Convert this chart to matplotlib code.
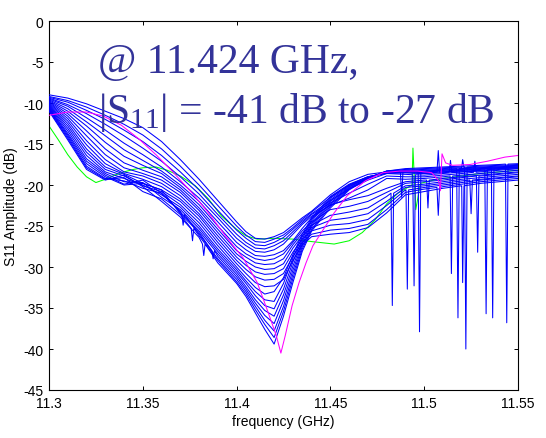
import numpy as np
import matplotlib
matplotlib.use("Agg")
import matplotlib.pyplot as plt

plt.rcParams['font.family'] = ['Liberation Sans', 'DejaVu Sans']
plt.rcParams['axes.unicode_minus'] = False
plt.rcParams['mathtext.fontset'] = 'custom'
plt.rcParams['mathtext.rm'] = 'Liberation Serif'
plt.rcParams['mathtext.it'] = 'Liberation Serif:italic'

# ---------------- data ----------------
freq_grid = [11.300, 11.310, 11.320, 11.330, 11.340, 11.350, 11.360, 11.370, 11.380, 11.390,
             11.400, 11.405, 11.410, 11.415, 11.420, 11.425, 11.430, 11.435, 11.440, 11.450,
             11.460, 11.470, 11.480, 11.490, 11.500, 11.510, 11.520, 11.530, 11.540, 11.550]

blue_db = [
    [-9.0, -9.4, -10.1, -11.0, -11.9, -13.0, -14.7, -16.9, -19.3, -21.9, -24.5, -25.7, -26.5, -26.6, -26.3,
     -25.8, -24.9, -24.0, -23.2, -21.2, -19.6, -18.7, -18.4, -18.3, -18.3, -18.2, -18.0, -17.9, -17.8, -17.6],
    [-9.2, -9.7, -10.5, -11.5, -12.6, -13.9, -15.6, -17.7, -20.0, -22.5, -25.0, -26.1, -26.9, -27.0, -26.6,
     -26.1, -25.2, -24.2, -23.3, -21.5, -20.0, -19.0, -18.5, -18.5, -18.6, -18.4, -18.2, -18.0, -17.9, -17.8],
    [-9.3, -9.9, -10.9, -12.0, -13.3, -14.7, -16.4, -18.4, -20.6, -23.1, -25.5, -26.5, -27.3, -27.4, -27.0,
     -26.4, -25.4, -24.4, -23.5, -21.9, -20.5, -19.4, -18.6, -18.7, -18.8, -18.6, -18.4, -18.2, -18.0, -17.9],
    [-9.4, -10.2, -11.3, -12.6, -14.0, -15.5, -17.1, -19.0, -21.1, -23.6, -26.0, -27.0, -27.7, -27.8, -27.4,
     -26.8, -25.7, -24.6, -23.6, -22.2, -21.0, -19.9, -18.9, -19.0, -19.0, -18.8, -18.6, -18.4, -18.2, -18.0],
    [-9.5, -10.4, -11.8, -13.3, -14.9, -16.3, -17.8, -19.6, -21.6, -24.0, -26.5, -27.4, -28.1, -28.2, -27.9,
     -27.2, -26.0, -24.8, -23.8, -22.5, -21.6, -20.6, -19.2, -19.3, -19.2, -19.0, -18.8, -18.6, -18.4, -18.2],
    [-9.6, -10.7, -12.3, -14.0, -15.7, -17.0, -18.3, -20.0, -22.0, -24.5, -27.0, -27.9, -28.6, -28.7, -28.5,
     -28.0, -26.8, -25.3, -24.0, -22.4, -21.8, -21.3, -20.4, -19.6, -19.4, -19.2, -19.0, -18.8, -18.6, -18.4],
    [-9.7, -11.0, -12.8, -14.8, -16.5, -17.6, -18.6, -20.3, -22.4, -25.0, -27.5, -28.4, -29.0, -29.2, -29.0,
     -28.4, -27.0, -25.6, -24.5, -23.0, -22.6, -22.0, -20.9, -19.8, -19.6, -19.4, -19.1, -18.9, -18.7, -18.5],
    [-9.8, -11.3, -13.4, -15.6, -17.3, -18.2, -19.0, -20.6, -22.8, -25.4, -28.0, -28.8, -29.5, -29.7, -29.6,
     -29.0, -27.3, -25.9, -24.9, -23.7, -23.3, -22.8, -21.4, -20.1, -19.9, -19.6, -19.3, -19.1, -18.9, -18.7],
    [-9.9, -11.6, -14.0, -16.3, -17.9, -18.6, -19.4, -20.9, -23.1, -25.8, -28.4, -29.3, -30.0, -30.3, -30.2,
     -29.6, -27.7, -26.2, -25.2, -24.3, -24.0, -23.5, -22.0, -20.3, -20.1, -19.8, -19.5, -19.3, -19.1, -18.9],
    [-10.0, -11.9, -14.6, -16.9, -18.4, -18.9, -19.8, -21.3, -23.5, -26.2, -28.8, -29.8, -30.6, -30.9, -30.8,
     -30.2, -28.2, -26.6, -25.6, -24.9, -24.7, -24.2, -22.5, -20.6, -20.3, -20.0, -19.7, -19.4, -19.2, -19.0],
    [-10.1, -12.2, -15.1, -17.4, -18.6, -19.3, -20.2, -21.7, -23.8, -26.6, -29.2, -30.3, -31.2, -31.6, -31.5,
     -30.8, -28.7, -27.0, -26.0, -25.5, -25.3, -24.8, -23.0, -20.9, -20.5, -20.2, -19.9, -19.6, -19.4, -19.2],
    [-10.2, -12.5, -15.6, -17.8, -18.7, -19.8, -20.6, -22.0, -24.2, -27.0, -29.6, -30.8, -31.9, -32.4, -32.3,
     -31.5, -29.2, -27.3, -26.3, -26.0, -25.8, -25.2, -23.4, -21.2, -20.8, -20.4, -20.1, -19.8, -19.6, -19.4],
    [-10.3, -12.8, -16.0, -18.1, -18.9, -20.1, -20.8, -22.4, -24.6, -27.4, -30.0, -31.3, -32.5, -33.3, -33.0,
     -31.3, -28.5, -26.0, -24.0, -21.4, -19.9, -19.0, -18.6, -18.5, -18.6, -18.5, -18.4, -18.3, -18.1, -18.0],
    [-10.4, -13.1, -16.4, -18.4, -19.2, -20.0, -21.2, -22.7, -25.0, -27.8, -30.3, -31.7, -33.0, -34.0, -34.2,
     -32.0, -28.9, -26.3, -24.2, -21.6, -20.0, -19.0, -18.5, -18.4, -18.5, -18.4, -18.3, -18.2, -18.0, -17.9],
    [-10.5, -13.4, -16.8, -18.6, -19.6, -19.7, -21.5, -23.0, -25.3, -28.1, -30.6, -32.0, -33.5, -34.7, -35.1,
     -32.7, -29.4, -26.6, -24.4, -21.8, -20.1, -19.1, -18.5, -18.3, -18.4, -18.3, -18.2, -18.1, -17.9, -17.8],
    [-10.6, -13.7, -17.1, -18.8, -19.9, -19.4, -21.0, -23.3, -25.6, -28.4, -30.9, -32.4, -34.0, -35.3, -36.0,
     -33.4, -29.9, -26.9, -24.7, -22.0, -20.2, -19.1, -18.4, -18.3, -18.3, -18.2, -18.1, -18.0, -17.9, -17.8],
    [-10.7, -13.9, -17.4, -19.0, -20.0, -19.8, -20.6, -23.5, -25.8, -28.7, -31.2, -32.7, -34.4, -35.9, -36.9,
     -34.1, -30.4, -27.2, -24.9, -22.2, -20.3, -19.1, -18.4, -18.2, -18.2, -18.1, -18.0, -17.9, -17.8, -17.7],
    [-10.8, -14.1, -17.7, -19.2, -19.5, -20.4, -21.0, -23.2, -26.0, -29.0, -31.5, -33.0, -34.8, -36.5, -37.8,
     -34.8, -30.9, -27.5, -25.1, -22.4, -20.4, -19.2, -18.3, -18.2, -18.1, -18.0, -17.9, -17.8, -17.7, -17.6],
    [-10.9, -14.3, -17.9, -19.3, -19.1, -20.8, -21.7, -23.6, -26.2, -29.2, -31.8, -33.3, -35.2, -37.0, -38.6,
     -35.4, -31.4, -27.8, -25.4, -22.6, -20.5, -19.2, -18.3, -18.1, -18.0, -17.9, -17.8, -17.7, -17.6, -17.5],
    [-11.0, -14.5, -18.1, -19.4, -18.8, -20.2, -22.0, -23.9, -26.4, -29.5, -32.0, -33.6, -35.6, -37.6, -39.4,
     -36.0, -31.9, -28.1, -25.6, -22.8, -20.6, -19.2, -18.3, -18.0, -17.9, -17.8, -17.7, -17.6, -17.5, -17.4],
]

# narrow spikes / notches on individual blue traces
spike_curve = [8, 10, 3, 15, 11, 2, 5, 13, 17, 12, 19, 18, 7, 4, 14, 16, 20, 6, 9, 1, 19, 20, 18, 17]
spike_freq = [11.4830, 11.4910, 11.4946, 11.4975, 11.5075, 11.5075, 11.5145, 11.5140, 11.5180, 11.5205,
              11.5222, 11.5205, 11.5285, 11.5270, 11.5330, 11.5365, 11.5440, 11.5020, 11.5250, 11.4880,
              11.3765, 11.3825, 11.3715, 11.3875]
spike_base = [-21.0, -20.6, -18.75, -18.4, -20.3, -18.45, -18.9, -18.45, -18.0, -20.1,
              -17.8, -17.9, -18.9, -18.45, -18.15, -17.95, -17.45, -19.4, -19.4, -18.3,
              -25.3, -27.2, -23.6, -28.0]
spike_depth = [-34.7, -32.7, -32.3, -37.9, -23.7, -15.8, -30.8, -17.0, -36.2, -31.9,
               -40.0, -16.9, -28.2, -17.1, -35.7, -36.2, -36.8, -22.8, -23.5, -21.5,
               -26.8, -28.6, -24.9, -29.0]

green_freq = [11.300, 11.305, 11.310, 11.315, 11.320, 11.325, 11.330, 11.335, 11.340, 11.345,
              11.350, 11.357, 11.363, 11.370, 11.378, 11.385, 11.392, 11.400, 11.405, 11.411,
              11.420, 11.430, 11.440, 11.452, 11.460, 11.467, 11.474, 11.480, 11.486, 11.4935,
              11.494, 11.4955, 11.498, 11.505, 11.510, 11.520, 11.530, 11.540, 11.550]
green_db = [-12.8, -14.5, -16.3, -17.8, -19.0, -19.7, -19.3, -18.8, -18.4, -18.1,
            -17.9, -17.8, -18.2, -18.9, -20.1, -21.7, -23.8, -25.4, -26.2, -26.6,
            -26.5, -26.6, -26.9, -27.2, -26.8, -25.8, -24.2, -22.3, -21.0, -20.0,
            -15.5, -23.0, -19.8, -19.4, -19.2, -18.9, -18.6, -18.4, -18.2]

magenta_freq = [11.300, 11.310, 11.320, 11.329, 11.3385, 11.348, 11.357, 11.366, 11.376, 11.385,
                11.394, 11.4035, 11.411, 11.4166, 11.4212, 11.4236, 11.4259, 11.4296, 11.4333, 11.437,
                11.4407, 11.4463, 11.452, 11.459, 11.4686, 11.478, 11.487, 11.4965, 11.504, 11.5077,
                11.5086, 11.5095, 11.5114, 11.515, 11.5244, 11.5337, 11.543, 11.550]
magenta_db = [-11.5, -11.1, -11.1, -11.6, -12.7, -14.4, -16.3, -18.4, -20.9, -23.4,
              -26.2, -28.9, -31.9, -35.4, -38.4, -40.5, -38.4, -34.7, -31.9, -29.5,
              -27.4, -25.4, -23.4, -21.3, -19.5, -18.5, -18.3, -18.3, -18.5, -19.5,
              -20.7, -16.2, -17.3, -17.6, -17.5, -17.1, -16.6, -16.4]

x_ticks = [11.3, 11.35, 11.4, 11.45, 11.5, 11.55]
x_tick_labels = ['11.3', '11.35', '11.4', '11.45', '11.5', '11.55']
y_ticks = [0, -5, -10, -15, -20, -25, -30, -35, -40, -45]
y_tick_labels = ['0', '-5', '-10', '-15', '-20', '-25', '-30', '-35', '-40', '-45']

# ---------------- figure ----------------
fig = plt.figure(figsize=(5.46, 4.39), dpi=100)
ax = fig.add_axes([49 / 546, 1 - 391 / 439, 469 / 546, 369 / 439])

ax.plot(green_freq, green_db, color='#00ff00', lw=0.75, zorder=2)

half_w = 0.0007
for k, row in enumerate(blue_db):
    xs = list(freq_grid)
    ys = list(row)
    for c, f, b, d in zip(spike_curve, spike_freq, spike_base, spike_depth):
        if c == k + 1:
            xs += [f - half_w, f, f + half_w]
            ys += [b, d, b]
    order = np.argsort(xs, kind='stable')
    ax.plot(np.array(xs)[order], np.array(ys)[order], color='#0000ff', lw=0.75, zorder=3)

ax.plot(magenta_freq, magenta_db, color='#ff00ff', lw=0.75, zorder=4)

ax.set_xlim(11.3, 11.55)
ax.set_ylim(-45, 0)
ax.set_xticks(x_ticks)
ax.set_xticklabels(x_tick_labels)
ax.set_yticks(y_ticks)
ax.set_yticklabels(y_tick_labels)
ax.tick_params(direction='in', length=3, width=0.7, top=True, right=True,
               labelsize=10, pad=4, colors='black')
for s in ax.spines.values():
    s.set_linewidth(0.8)

ax.set_xlabel('frequency (GHz)', fontsize=10, labelpad=3)
ax.set_ylabel('S11 Amplitude (dB)', fontsize=10, labelpad=4)

txt_color = '#333399'
ax.text(11.3259, -6.2, '@ 11.424 GHz,', family='Liberation Serif', fontsize=30,
        color=txt_color, ha='left', va='baseline', zorder=5)
ax.text(11.3263, -12.3, r'|S$_\mathrm{11}$| = -41 dB to -27 dB', family='Liberation Serif',
        fontsize=30, color=txt_color, ha='left', va='baseline', zorder=5)

fig.savefig('out.png', dpi=100)
